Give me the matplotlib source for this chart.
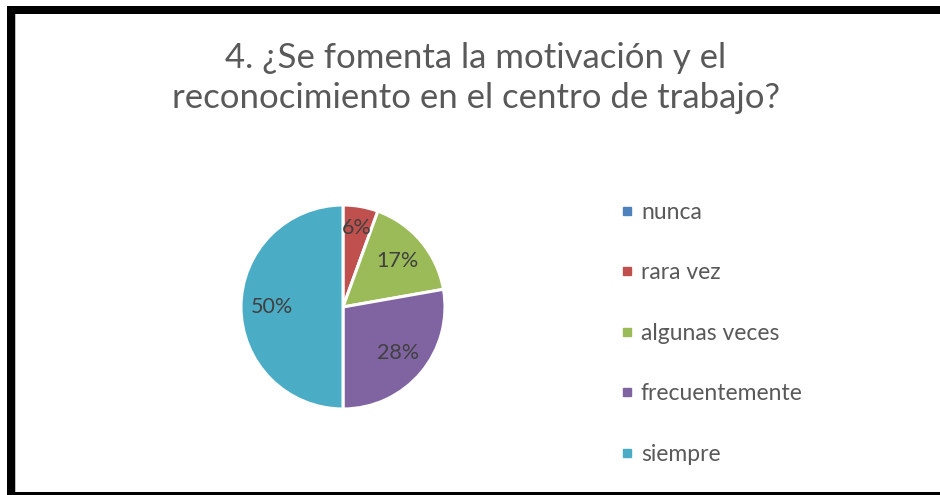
import numpy as np
import matplotlib.pyplot as plt
from matplotlib.patches import Rectangle
from matplotlib.lines import Line2D

# Chart data
categories = ['nunca', 'rara vez', 'algunas veces', 'frecuentemente', 'siempre']
counts = [0, 1, 3, 5, 9]
colors = ['#4F81BD', '#C0504D', '#9BBB59', '#8064A2', '#4BACC6']
title = '4. ¿Se fomenta la motivación y el\nreconocimiento en el centro de trabajo?'

W, H = 940, 495
plt.rcParams['font.family'] = ['Lato', 'DejaVu Sans']

fig = plt.figure(figsize=(W / 100, H / 100), dpi=100)
fig.patch.set_facecolor('white')


def frac_box(x0, y0, x1, y1):
    """Pixel box (top-left origin) -> figure fraction rectangle."""
    return (x0 / W, 1 - y1 / H, (x1 - x0) / W, (y1 - y0) / H)


# Black frame (top, left, bottom)
for box in [(7, 6, 940, 14), (7, 6, 15, 495), (7, 492, 940, 495)]:
    x, y, w, h = frac_box(*box)
    fig.add_artist(Rectangle((x, y), w, h, transform=fig.transFigure,
                             facecolor='black', edgecolor='none'))
x, y, w, h = frac_box(15, 14, 16.5, 492)
fig.add_artist(Rectangle((x, y), w, h, transform=fig.transFigure,
                         facecolor='#BFBFBF', edgecolor='none'))

# Title
fig.text(476 / W, 1 - 78 / H, title, ha='center', va='center',
         fontsize=25, color='#595959', linespacing=1.3)

# Pie
cx, cy, r = 343, 307, 102
ax = fig.add_axes(frac_box(cx - r, cy - r, cx + r, cy + r))


def pct_fmt(p):
    return '' if p < 0.5 else '%d%%' % round(p)


wedges, texts, autotexts = ax.pie(
    counts, colors=colors, startangle=90, counterclock=False,
    autopct=pct_fmt, pctdistance=0.7, radius=1,
    wedgeprops=dict(edgecolor='white', linewidth=2.2),
    textprops=dict(fontsize=15.5, color='#404040'))
# small slice label sits a bit further out
autotexts[1].set_position(np.array(autotexts[1].get_position()) * 1.12)
ax.set_xlim(-1.0, 1.0)
ax.set_ylim(-1.0, 1.0)
ax.set_aspect('equal')

# Legend
handles = [Line2D([], [], marker='s', linestyle='none', markersize=6,
                  markerfacecolor=c, markeredgecolor=c) for c in colors]
leg = fig.legend(handles, categories, loc='upper left',
                 bbox_to_anchor=(621.5 / W, 1 - 202 / H), frameon=False,
                 fontsize=16.5, labelspacing=1.72, handlelength=0.5,
                 handletextpad=0.35, borderaxespad=0, borderpad=0)
for t in leg.get_texts():
    t.set_color('#595959')

fig.savefig('out.png', dpi=100)
